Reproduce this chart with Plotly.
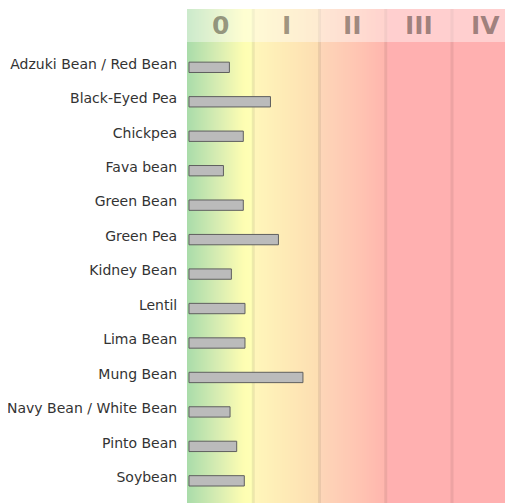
import numpy as np
import plotly.graph_objects as go

# ---- data ----
categories = ["Adzuki Bean / Red Bean", "Black-Eyed Pea", "Chickpea", "Fava bean",
              "Green Bean", "Green Pea", "Kidney Bean", "Lentil", "Lima Bean",
              "Mung Bean", "Navy Bean / White Bean", "Pinto Bean", "Soybean"]
values = [0.61, 1.23, 0.82, 0.52, 0.82, 1.35, 0.64, 0.845, 0.845, 1.72, 0.62, 0.72, 0.835]
levels = ["0", "I", "II", "III", "IV"]

# ---- geometry / style ----
# the page body adds an 8px offset, so figure coords = page coords - 8
W, H = 513, 495
L, T, R, B = 179, 1, 0, 0
PX_PER_UNIT = 66.25
X1 = (W - L - R) / PX_PER_UNIT
plot_h = H - T - B
ROW = 34.46
Y_TOP = -(63.7 - 9) / ROW
Y_BOT = Y_TOP + plot_h / ROW
HDR_BOT = Y_TOP + 33 / ROW
HDR_MID = (Y_TOP + HDR_BOT) / 2

grad_stops = [
    (0.00, (169, 220, 170)),
    (0.45, (214, 236, 178)),
    (0.85, (253, 253, 178)),
    (0.98, (255, 255, 182)),
    (1.02, (255, 246, 186)),
    (1.98, (253, 222, 178)),
    (2.02, (253, 214, 184)),
    (2.60, (255, 196, 178)),
    (2.98, (255, 182, 174)),
    (3.05, (255, 176, 176)),
    (X1, (255, 176, 176)),
]
colorscale = [[min(p / X1, 1.0), "rgb(%d,%d,%d)" % c] for p, c in grad_stops]

n = W - L - R
edges = np.linspace(0, X1, n + 1)
centers = (edges[:-1] + edges[1:]) / 2

fig = go.Figure()

# background gradient
fig.add_trace(go.Heatmap(
    x=edges, y=[Y_TOP, Y_BOT], z=[centers],
    colorscale=colorscale, zmin=0, zmax=X1, showscale=False,
    hoverinfo="skip", xaxis="x", yaxis="y"))

# column separators
for i in range(1, len(levels)):
    fig.add_trace(go.Scatter(
        x=[i, i], y=[Y_TOP, Y_BOT], mode="lines",
        line=dict(color="rgba(0,0,0,0.07)", width=3),
        hoverinfo="skip", showlegend=False, xaxis="x", yaxis="y"))

# bars (overlay axes so they sit above separators)
fig.add_trace(go.Bar(
    orientation="h", x=values, y=list(range(len(categories))),
    base=0.03, width=0.3, offset=-0.045,
    marker=dict(color="#bbbbbb", line=dict(color="#5f5f5f", width=1)),
    hoverinfo="skip", showlegend=False, xaxis="x2", yaxis="y2"))

# header band
fig.add_shape(type="rect", xref="x", yref="y", x0=0, x1=X1, y0=Y_TOP, y1=HDR_BOT,
              fillcolor="rgba(255,255,255,0.4)", line=dict(width=0), layer="above")

for i, lab in enumerate(levels):
    fig.add_annotation(x=i + 0.5, y=HDR_MID, xref="x", yref="y", text="<b>%s</b>" % lab,
                       showarrow=False,
                       font=dict(family="DejaVu Sans", size=25, color="rgba(40,30,20,0.45)"))

fig.update_layout(
    width=W, height=H,
    margin=dict(l=L, r=R, t=T, b=B, pad=0),
    paper_bgcolor="white", plot_bgcolor="white",
    showlegend=False,
    font=dict(family="DejaVu Sans", size=14, color="#333333"),
    xaxis=dict(range=[0, X1], visible=False, fixedrange=True),
    yaxis=dict(range=[Y_BOT, Y_TOP], tickmode="array",
               tickvals=list(range(len(categories))), ticktext=categories,
               ticks="outside", ticklen=6, tickcolor="rgba(0,0,0,0)",
               showgrid=False, zeroline=False, showline=False,
               tickfont=dict(family="DejaVu Sans", size=14, color="#333333")),
    xaxis2=dict(range=[0, X1], overlaying="x", visible=False),
    yaxis2=dict(range=[Y_BOT, Y_TOP], overlaying="y", visible=False),
)

fig.write_html("out.html")
